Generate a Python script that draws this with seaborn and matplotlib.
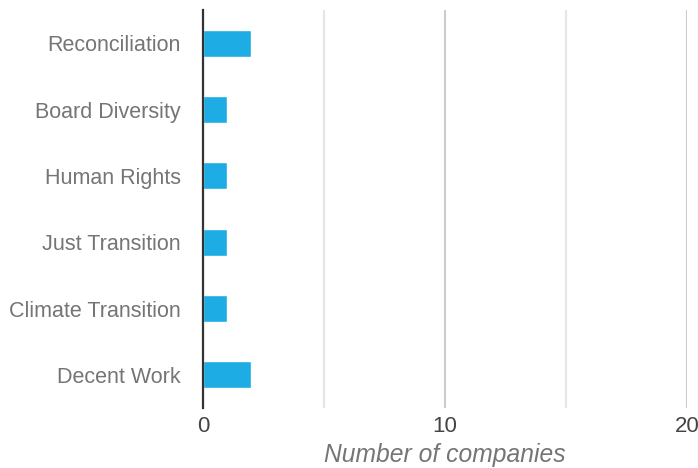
import matplotlib
matplotlib.use("Agg")
import matplotlib.pyplot as plt
import pandas as pd
import seaborn as sns
from matplotlib.ticker import MultipleLocator

# values
topics = [
    "Reconciliation",
    "Board Diversity",
    "Human Rights",
    "Just Transition",
    "Climate Transition",
    "Decent Work",
]
companies = [2, 1, 1, 1, 1, 2]

df = pd.DataFrame({"topic": topics, "companies": companies})

sns.set_theme(style="white")
plt.rcParams["font.family"] = ["Liberation Sans", "DejaVu Sans"]

fig = plt.figure(figsize=(6.98, 4.68), dpi=100)
ax = fig.add_axes([0.2908, 0.1282, 0.6935, 0.8504])

sns.barplot(data=df, x="companies", y="topic", color="#1DADE4",
            width=0.41, saturation=1, ax=ax, zorder=3)

ax.set_xlim(0, 20)
ax.xaxis.set_major_locator(MultipleLocator(10))
ax.xaxis.set_minor_locator(MultipleLocator(5))
ax.grid(axis="x", which="major", color="#cccccc", linewidth=1.5, zorder=0)
ax.grid(axis="x", which="minor", color="#e6e6e6", linewidth=1.5, zorder=0)
ax.set_axisbelow(True)

for side in ["top", "right", "bottom"]:
    ax.spines[side].set_visible(False)
ax.spines["left"].set_color("#333333")
ax.spines["left"].set_linewidth(1.6)
ax.spines["left"].set_zorder(4)

ax.tick_params(axis="both", which="both", length=0)
ax.tick_params(axis="x", labelsize=16, labelcolor="#444444", pad=6)
ax.tick_params(axis="y", labelsize=15.5, labelcolor="#757575", pad=16)

ax.set_ylabel("")
ax.set_xlabel("Number of companies", fontsize=17.7, style="italic",
              color="#757575", labelpad=4)

fig.savefig("out.png", dpi=100)
